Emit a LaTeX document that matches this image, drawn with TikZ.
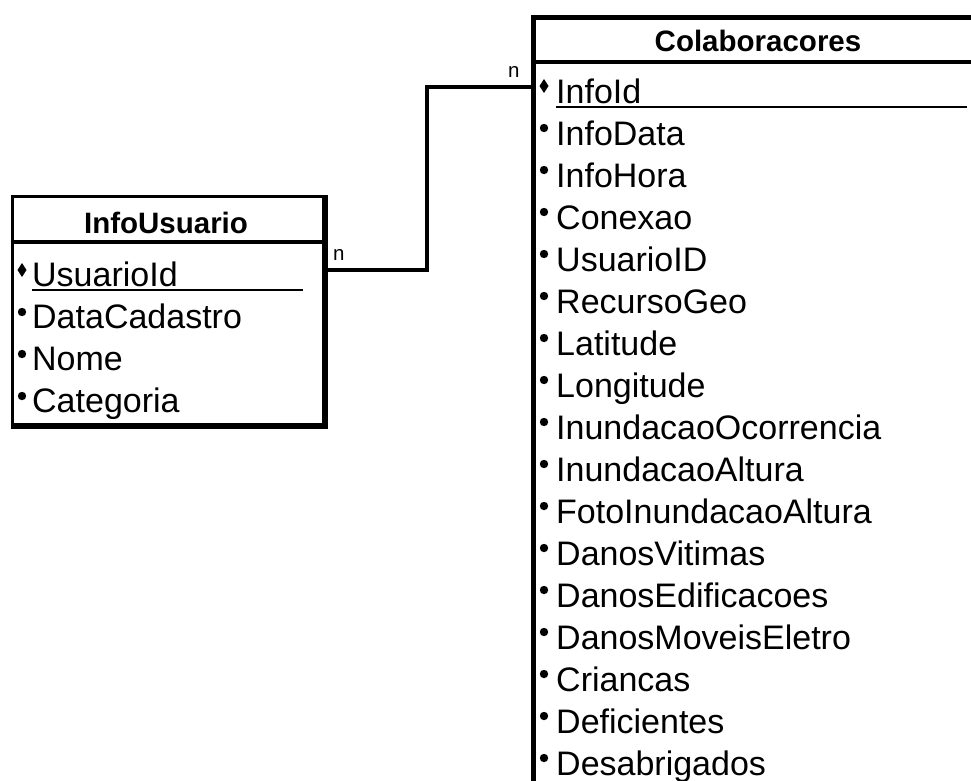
\documentclass[tikz,border=0pt]{standalone}
\usepackage{fontspec}
\setmainfont{Liberation Sans}
\usetikzlibrary{calc}
\tikzset{
  entity/.style={draw, line width=3pt, inner sep=0pt, anchor=north west},
  title/.style={anchor=base, inner sep=0pt, font=\fontsize{29.5}{35}\selectfont\bfseries},
  attr/.style={anchor=base west, inner sep=0pt, font=\fontsize{34}{40}\selectfont},
  card/.style={anchor=base west, inner sep=0pt, font=\fontsize{20.5}{24}\selectfont},
  rel/.style={line width=4.5pt},
}
\begin{document}
\begin{tikzpicture}[x=1pt,y=-1pt]
    \useasboundingbox (0,0) rectangle (971,780);
    \clip (0,0) rectangle (971,780);
    % Draw InfoUsuario table
    \node[entity, minimum width=311pt, minimum height=228pt] (usuario) at (11,195) {};
    \draw[line width=5.5pt] (usuario.north east) -- (usuario.south east) -- (usuario.south west);
    \draw[line width=3.5pt] (usuario.west |- 0,242) -- (usuario.east |- 0,242);
    \node[title] (usuariotitle) at (166,233) {InfoUsuario};
    \node[attr] (usuarioid)    at (32,286) {UsuarioId};
    \node[attr] (datacadastro) at (32,328) {DataCadastro};
    \node[attr] (nome)         at (32,370) {Nome};
    \node[attr] (categoria)    at (32,412) {Categoria};
    \draw[line width=1.8pt] ($(usuarioid.base west)+(0,4)$) -- ++(271,0);
    % Draw Colaboracores table
    \node[entity, line width=5pt, minimum width=454pt, minimum height=800pt] (colab) at (531,15) {};
    \draw[line width=3.5pt] (colab.west |- 0,62) -- (colab.east |- 0,62);
    \node[title] (colabtitle) at (758,51) {Colaboracores};
    \node[attr] (infoid)       at (556,103) {InfoId};
    \node[attr] (infodata)     at (556,145) {InfoData};
    \node[attr] (infohora)     at (556,187) {InfoHora};
    \node[attr] (conexao)      at (556,229) {Conexao};
    \node[attr] (usuarioref)   at (556,271) {UsuarioID};
    \node[attr] (recursogeo)   at (556,313) {RecursoGeo};
    \node[attr] (latitude)     at (556,355) {Latitude};
    \node[attr] (longitude)    at (556,397) {Longitude};
    \node[attr] (inundocorr)   at (556,439) {InundacaoOcorrencia};
    \node[attr] (inundaltura)  at (556,481) {InundacaoAltura};
    \node[attr] (fotoaltura)   at (556,523) {FotoInundacaoAltura};
    \node[attr] (danosvitimas) at (556,565) {DanosVitimas};
    \node[attr] (danosedif)    at (556,607) {DanosEdificacoes};
    \node[attr] (danosmoveis)  at (556,649) {DanosMoveisEletro};
    \node[attr] (criancas)     at (556,691) {Criancas};
    \node[attr] (deficientes)  at (556,733) {Deficientes};
    \node[attr] (desabrigados) at (556,775) {Desabrigados};
    \draw[line width=1.8pt] ($(infoid.base west)+(0,4)$) -- (967,107);
    % Draw key diamonds
    \fill ($(usuarioid.base west)+(-10,-16)$) +(0,-7) -- +(4.5,0) -- +(0,7) -- +(-4.5,0) -- cycle;
    \fill ($(infoid.base west)+(-12,-17)$) +(0,-7) -- +(4.5,0) -- +(0,7) -- +(-4.5,0) -- cycle;
    % Draw bullets
    \foreach \n in {datacadastro,nome,categoria}
        \fill ($(\n.base west)+(-10,-16)$) circle (4.2pt);
    \foreach \n in {infodata,infohora,conexao,usuarioref,recursogeo,latitude,longitude,
                    inundocorr,inundaltura,fotoaltura,danosvitimas,danosedif,
                    danosmoveis,criancas,deficientes,desabrigados}
        \fill ($(\n.base west)+(-12,-17)$) circle (4.2pt);
    % Draw relationship
    \draw[rel] (usuario.east |- 0,270) -| (427,87) -- (colab.west |- 0,87);
    \node[card] (nleft)  at (333,260) {n};
    \node[card] (nright) at (508,77)  {n};
\end{tikzpicture}
\end{document}
